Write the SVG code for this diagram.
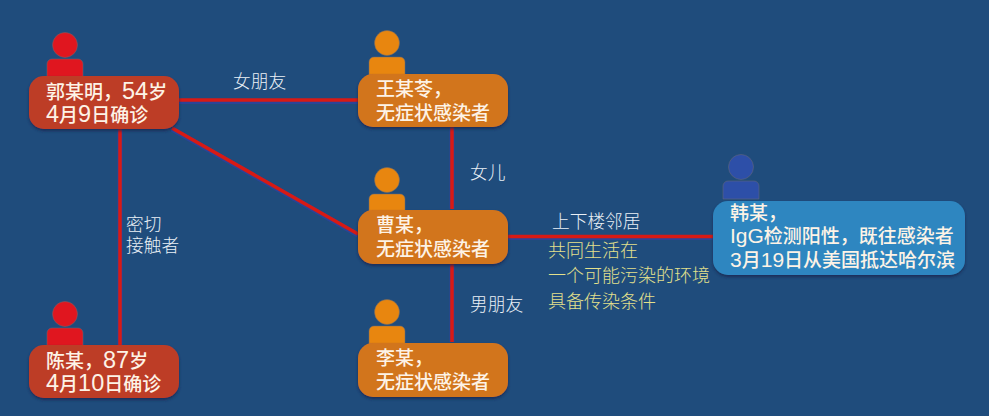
<svg xmlns="http://www.w3.org/2000/svg" width="989" height="416" viewBox="0 0 989 416">
<style>
text{font-family:"Noto Sans CJK SC","Liberation Sans",sans-serif}
.n{font-size:19px;fill:#fdf3e6;font-weight:500}
.a{font-family:"Liberation Sans",sans-serif;font-size:21px;font-weight:400}
.b{font-family:"Liberation Sans",sans-serif;font-size:23.500px;font-weight:400}
.l{font-size:17.700px;fill:#eaf0f6;font-weight:300}
.y{font-size:18px;fill:#e3e08c;font-weight:300}
.halo{stroke:#2b4497;stroke-width:5;fill:none}
.line{stroke:#d81a14;stroke-width:3.500;fill:none}
.red{fill:#e0161f}.org{fill:#e8860f}.blu{fill:#2d4fa8}
.rb{fill:#bd3d27}.ob{fill:#d2741f}.bb{fill:#2e86c0}
.red,.org,.blu{stroke:#6f6a70;stroke-width:.5}
</style>
<defs>
<filter id="s" x="-10%" y="-15%" width="120%" height="135%"><feDropShadow dx="0" dy="2" stdDeviation="1.5" flood-color="#14284f" flood-opacity=".8"/></filter>
<g id="p"><circle cx="0" cy="0" r="12.500"/><path d="M-18 32V19a5 5 0 0 1 5-5H13a5 5 0 0 1 5 5V32z"/></g>
</defs>
<rect width="989" height="416" fill="#1f4c7c"/>
<g id="connectors">
<g class="halo">
<path d="M178 101.500H358"/><path d="M120 129V345"/><path d="M172 129L358 235"/><path d="M452 127V209"/><path d="M452 264V342"/><path d="M508 237.500H713"/>
</g>
<g class="line">
<path d="M178 100H358"/><path d="M120 129V345"/><path d="M172 128L358 234"/><path d="M452 127V209"/><path d="M452 264V342"/><path d="M508 236.500H713"/>
</g>
</g>
<g id="label-gf"><text class="l" x="233" y="88">女朋友</text></g>
<g id="label-dau"><text class="l" x="470" y="179">女儿</text></g>
<g id="label-bf"><text class="l" x="470" y="311">男朋友</text></g>
<g id="label-close"><text class="l" x="126" y="231">密切</text><text class="l" x="126" y="252">接触者</text></g>
<g id="label-neighbor"><text class="l" x="552" y="228">上下楼邻居</text></g>
<g id="label-note"><text class="y" x="548" y="257">共同生活在</text><text class="y" x="548" y="282">一个可能污染的环境</text><text class="y" x="548" y="308">具备传染条件</text></g>
<g id="node-guo"><use href="#p" class="red" x="65" y="45"/><rect class="rb" x="29" y="76" width="150" height="53" rx="15" filter="url(#s)"/><text class="n" x="46" y="99">郭某明，<tspan class="b">54</tspan>岁</text><text class="n" x="46" y="122"><tspan class="b">4</tspan>月<tspan class="b">9</tspan>日确诊</text></g>
<g id="node-wang"><use href="#p" class="org" x="387" y="43"/><rect class="ob" x="358" y="74" width="150" height="53" rx="15" filter="url(#s)"/><text class="n" x="376" y="96">王某苓，</text><text class="n" x="376" y="120">无症状感染者</text></g>
<g id="node-cao"><use href="#p" class="org" x="387" y="180"/><rect class="ob" x="358" y="210" width="150" height="54" rx="15" filter="url(#s)"/><text class="n" x="376" y="232">曹某，</text><text class="n" x="376" y="256">无症状感染者</text></g>
<g id="node-li"><use href="#p" class="org" x="387" y="312"/><rect class="ob" x="358" y="343" width="150" height="54" rx="15" filter="url(#s)"/><text class="n" x="376" y="365">李某，</text><text class="n" x="376" y="389">无症状感染者</text></g>
<g id="node-chen"><use href="#p" class="red" x="65" y="314"/><rect class="rb" x="29" y="345" width="150" height="53" rx="15" filter="url(#s)"/><text class="n" x="46" y="368">陈某，<tspan class="b">87</tspan>岁</text><text class="n" x="46" y="391"><tspan class="b">4</tspan>月<tspan class="b">10</tspan>日确诊</text></g>
<g id="node-han"><use href="#p" class="blu" x="741" y="167"/><rect class="bb" x="713" y="201" width="252" height="74" rx="15" filter="url(#s)"/><text class="n" x="730" y="220">韩某，</text><text class="n" x="730" y="243"><tspan class="a">IgG</tspan>检测阳性，既往感染者</text><text class="n" x="730" y="267"><tspan class="a">3</tspan>月<tspan class="a">19</tspan>日从美国抵达哈尔滨</text></g>
</svg>
